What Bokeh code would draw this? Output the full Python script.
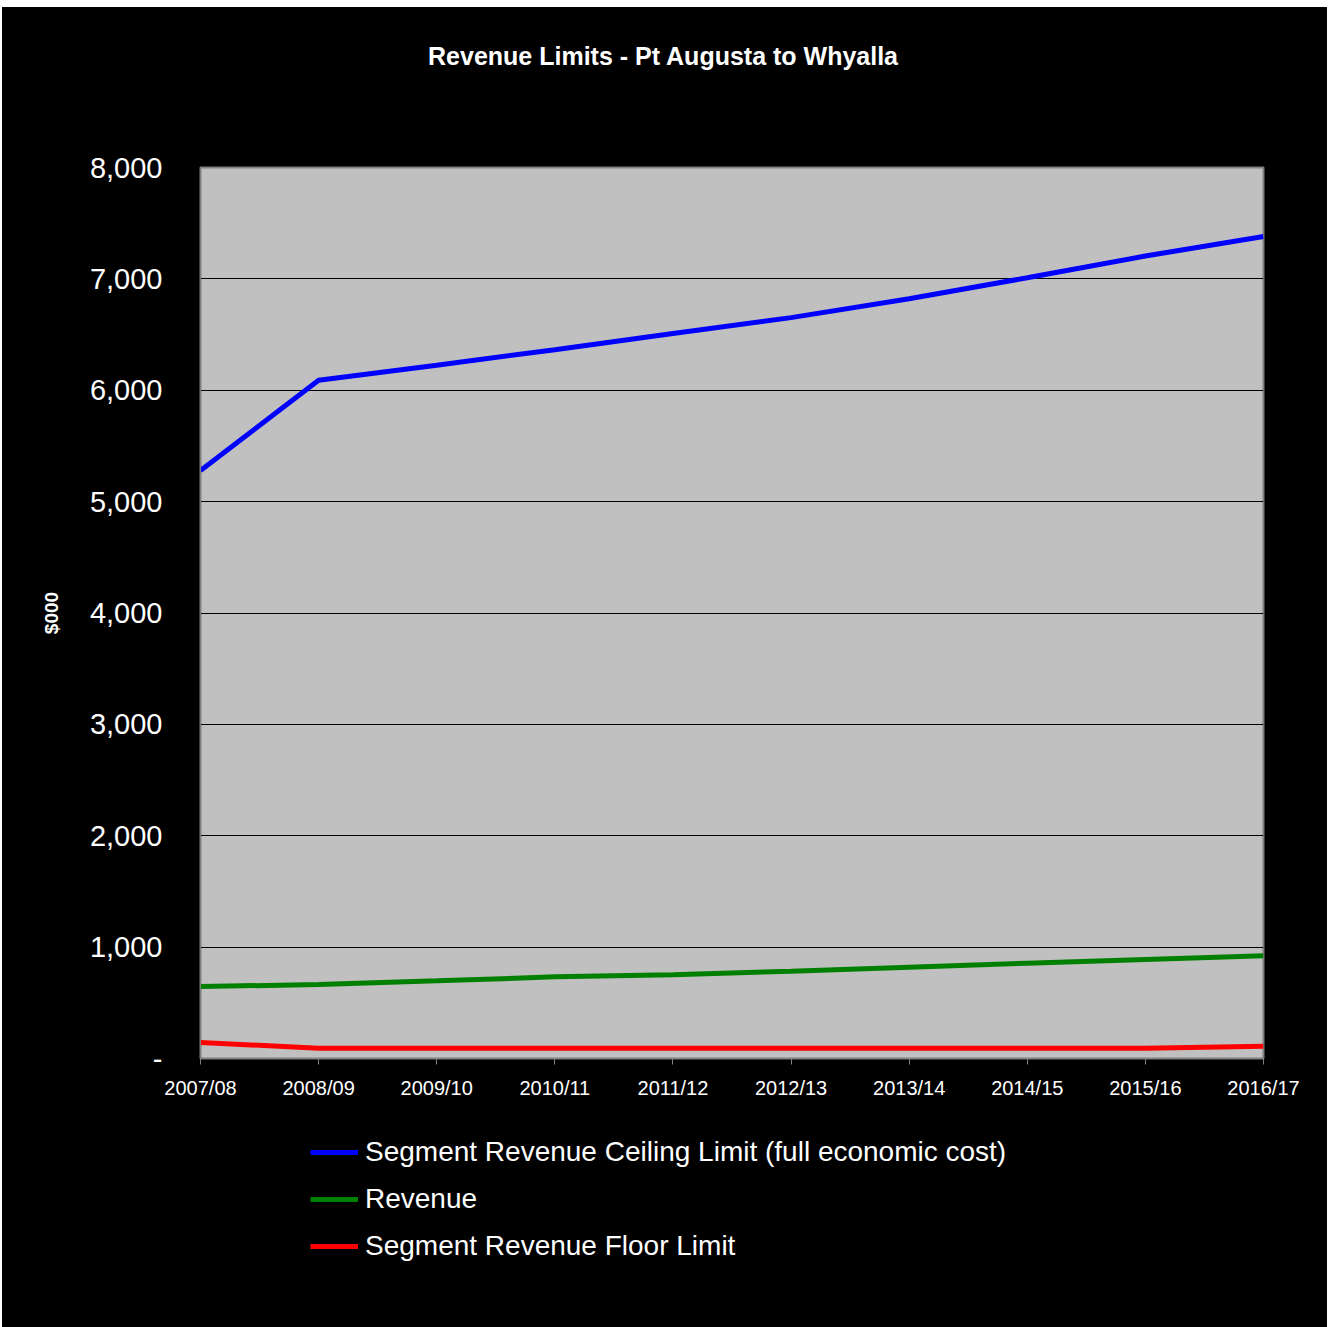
from bokeh.plotting import figure
from bokeh.models import (ColumnDataSource, FixedTicker, NumeralTickFormatter, Label,
                          Legend, LegendItem, Range1d, Spacer)
from bokeh.layouts import row, column
from bokeh.embed import file_html
from bokeh.resources import INLINE

years = ["2007/08", "2008/09", "2009/10", "2010/11", "2011/12",
         "2012/13", "2013/14", "2014/15", "2015/16", "2016/17"]
ceiling = [5280, 6090, 6225, 6364, 6510, 6652, 6822, 7010, 7205, 7380]
revenue = [646, 664, 697, 733, 751, 784, 820, 856, 889, 922]
floor_limit = [144, 93, 93, 93, 93, 93, 93, 93, 93, 110]
y_ticks = [0, 1000, 2000, 3000, 4000, 5000, 6000, 7000, 8000]
series_names = ["Segment Revenue Ceiling Limit (full economic cost)",
                "Revenue", "Segment Revenue Floor Limit"]
series_fields = ["ceiling", "revenue", "floor"]
series_colors = ["#0000ff", "#008000", "#ff0000"]
title_text = "Revenue Limits - Pt Augusta to Whyalla"

FONT = "Liberation Sans"
W = 1325
TITLE_H = 100
MAIN_H = 1003
LEG_H = 1320 - TITLE_H - MAIN_H
BL, BR = 198, 64   # left / right borders so all frames share x = 200..1263 on the page

xs = list(range(len(years)))
src = ColumnDataSource(dict(x=xs, ceiling=ceiling, revenue=revenue, floor=floor_limit))


def blank_fig(h):
    f = figure(width=W, height=h, output_backend="svg", toolbar_location=None,
               x_axis_type=None, y_axis_type=None,
               x_range=Range1d(0, 1), y_range=Range1d(0, 1),
               min_border_left=BL, min_border_right=BR, min_border_top=0, min_border_bottom=0)
    f.background_fill_color = "black"
    f.border_fill_color = "black"
    f.outline_line_color = None
    return f


# ---- title strip ----
pt = blank_fig(TITLE_H)
pt.add_layout(Label(x=463, y=TITLE_H - 48, x_units="screen", y_units="screen",
                    text=title_text, text_color="white", text_font=FONT,
                    text_font_style="bold", text_font_size="25px",
                    text_align="center", text_baseline="middle"))

# ---- main chart ----
p = figure(width=W, height=MAIN_H, output_backend="svg", toolbar_location=None,
           x_range=Range1d(0, len(years) - 1), y_range=Range1d(0, 8000),
           min_border_left=BL, min_border_right=BR, min_border_top=60,
           min_border_bottom=52)
p.background_fill_color = "#c0c0c0"
p.border_fill_color = "black"
p.outline_line_color = "#808080"
p.outline_line_width = 2

for field, col in zip(series_fields, series_colors):
    p.line("x", field, source=src, line_color=col, line_width=5)

p.xaxis.ticker = FixedTicker(ticks=xs)
p.xaxis.major_label_overrides = {i: y for i, y in enumerate(years)}
p.xaxis.major_label_text_font = FONT
p.xaxis.major_label_text_font_size = "20px"
p.xaxis.major_label_text_color = "white"
p.xaxis.major_tick_out = 6
p.xaxis.major_tick_in = 0
p.xaxis.major_tick_line_color = "#808080"
p.xaxis.minor_tick_line_color = None
p.xaxis.axis_line_color = "#808080"
p.xaxis.major_label_standoff = 12

p.yaxis.ticker = FixedTicker(ticks=y_ticks)
p.yaxis.formatter = NumeralTickFormatter(format="0,0")
p.yaxis.major_label_overrides = {0: "-"}
p.yaxis.major_label_text_font = FONT
p.yaxis.major_label_text_font_size = "29px"
p.yaxis.major_label_text_color = "white"
p.yaxis.major_tick_out = 0
p.yaxis.major_tick_in = 0
p.yaxis.minor_tick_line_color = None
p.yaxis.axis_line_color = "#808080"
p.yaxis.major_label_standoff = 38
p.yaxis.axis_label = "$000"
p.yaxis.axis_label_text_font = FONT
p.yaxis.axis_label_text_font_style = "bold"
p.yaxis.axis_label_text_font_size = "19px"
p.yaxis.axis_label_text_color = "white"
p.yaxis.axis_label_standoff = 25

p.xgrid.grid_line_color = None
p.ygrid.grid_line_color = "black"
p.ygrid.grid_line_width = 1

# ---- legend strip (same series; their lines fall outside this strip's range) ----
pl = blank_fig(LEG_H)
pl.y_range = Range1d(-2, -1)
items = []
for name, field, col in zip(series_names, series_fields, series_colors):
    r = pl.line("x", field, source=src, line_color=col, line_width=5)
    items.append(LegendItem(label=name, renderers=[r]))
legend = Legend(items=items, location=(110, LEG_H - 22 - 134), orientation="vertical")
legend.background_fill_alpha = 0
legend.border_line_color = None
legend.label_text_color = "white"
legend.label_text_font = FONT
legend.label_text_font_size = "28px"
legend.glyph_width = 48
legend.glyph_height = 40
legend.label_height = 40
legend.label_standoff = 7
legend.spacing = 7
legend.padding = 0
legend.margin = 0
pl.add_layout(legend, "center")

inner = column(pt, p, pl, spacing=0, styles={"background-color": "black"})
layout = row(Spacer(width=2), column(Spacer(height=7), inner))
open("out.html", "w").write(file_html(layout, INLINE))
